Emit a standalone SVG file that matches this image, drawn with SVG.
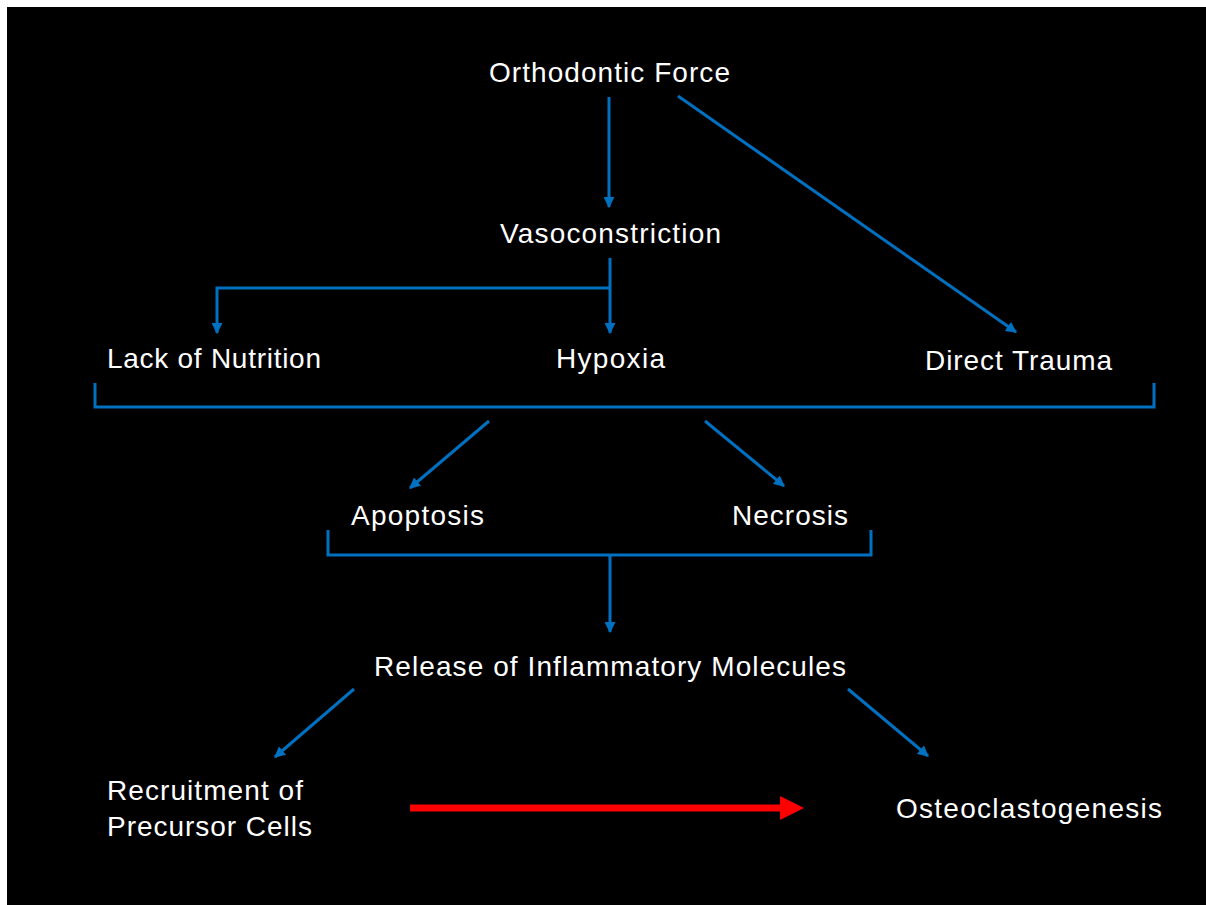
<svg xmlns="http://www.w3.org/2000/svg" width="1206" height="905" viewBox="0 0 1206 905">
<defs>
<style>
.t{font-family:"Liberation Sans",Arial,sans-serif;font-size:28px;fill:#fff}
.c{fill:none;stroke:#0070C0;stroke-width:3}
</style>
<marker id="ah" viewBox="0 0 10 10" refX="9" refY="5" markerWidth="11" markerHeight="11" markerUnits="userSpaceOnUse" orient="auto"><path d="M0,0 L10,5 L0,10 Z" fill="#0070C0"/></marker>
</defs>
<rect x="0" y="0" width="1206" height="905" fill="#fff"/>
<rect x="7" y="7" width="1199" height="898" fill="#000"/>
<g id="connectors">
<path class="c" d="M609,97 V207" marker-end="url(#ah)"/>
<path class="c" d="M678,96 L1016,332" marker-end="url(#ah)"/>
<path class="c" d="M610,258 V333" marker-end="url(#ah)"/>
<path class="c" d="M610,288 H217 V333" marker-end="url(#ah)"/>
<path class="c" d="M95,383 V407 H1154 V383"/>
<path class="c" d="M489,421 L410,488" marker-end="url(#ah)"/>
<path class="c" d="M705,421 L784,486" marker-end="url(#ah)"/>
<path class="c" d="M328,530 V555 H871 V530"/>
<path class="c" d="M610,555 V632" marker-end="url(#ah)"/>
<path class="c" d="M354,689 L275,757" marker-end="url(#ah)"/>
<path class="c" d="M848,689 L928,756" marker-end="url(#ah)"/>
<path d="M410,808 H790" stroke="#FF0000" stroke-width="7" fill="none"/>
<path d="M780,796 L804,808 L780,820 Z" fill="#FF0000"/>
</g>
<g id="orthodontic-force"><text class="t" x="489" y="82" textLength="241" lengthAdjust="spacing">Orthodontic Force</text></g>
<g id="vasoconstriction"><text class="t" x="500" y="243" textLength="221" lengthAdjust="spacing">Vasoconstriction</text></g>
<g id="lack-of-nutrition"><text class="t" x="107" y="368" textLength="214" lengthAdjust="spacing">Lack of Nutrition</text></g>
<g id="hypoxia"><text class="t" x="556" y="368" textLength="109" lengthAdjust="spacing">Hypoxia</text></g>
<g id="direct-trauma"><text class="t" x="925" y="370" textLength="187" lengthAdjust="spacing">Direct Trauma</text></g>
<g id="apoptosis"><text class="t" x="351" y="525" textLength="133" lengthAdjust="spacing">Apoptosis</text></g>
<g id="necrosis"><text class="t" x="732" y="525" textLength="116" lengthAdjust="spacing">Necrosis</text></g>
<g id="release"><text class="t" x="374" y="676" textLength="472" lengthAdjust="spacing">Release of Inflammatory Molecules</text></g>
<g id="recruitment"><text class="t" x="107" y="800" textLength="196" lengthAdjust="spacing">Recruitment of</text><text class="t" x="107" y="836" textLength="205" lengthAdjust="spacing">Precursor Cells</text></g>
<g id="osteoclastogenesis"><text class="t" x="896" y="818" textLength="266" lengthAdjust="spacing">Osteoclastogenesis</text></g>
</svg>
